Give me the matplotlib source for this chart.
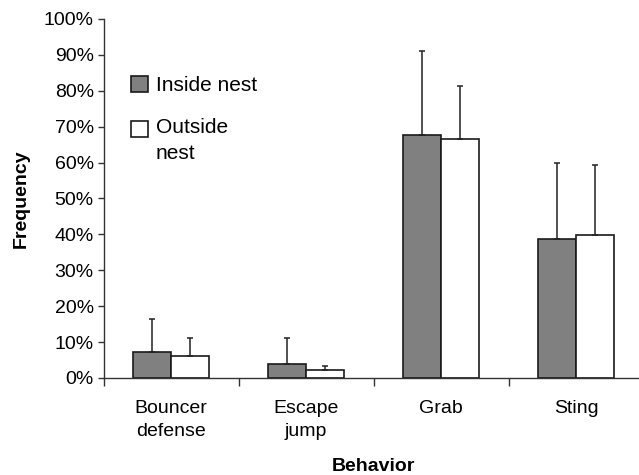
import matplotlib
matplotlib.use("Agg")
import matplotlib.pyplot as plt
import numpy as np
from matplotlib.ticker import FixedLocator, PercentFormatter
from matplotlib.legend_handler import HandlerPatch
from matplotlib.patches import Rectangle

categories = ["Bouncer\ndefense", "Escape\njump", "Grab", "Sting"]
inside_vals = [7.3, 3.8, 67.7, 38.7]
inside_err = [9.0, 7.4, 23.5, 21.2]
outside_vals = [6.0, 2.3, 66.5, 39.7]
outside_err = [5.2, 1.1, 14.8, 19.6]
series_labels = ["Inside nest", "Outside\nnest"]

plt.rcParams['font.family'] = ['Liberation Sans', 'DejaVu Sans']

fig = plt.figure(figsize=(6.39, 4.75), dpi=100)
ax = fig.add_axes([103.5/639, 1-378/475, 540/639, (378-19)/475])

x = np.arange(len(categories))
w = 0.28
ekw = dict(ecolor='#222222', elinewidth=1.1, capsize=2.2, capthick=1.1)
b1 = ax.bar(x - w/2, inside_vals, w, color='#808080', edgecolor='#1a1a1a', linewidth=1.2,
            yerr=[np.zeros(4), inside_err], error_kw=ekw, zorder=2)
b2 = ax.bar(x + w/2, outside_vals, w, color='white', edgecolor='#1a1a1a', linewidth=1.2,
            yerr=[np.zeros(4), outside_err], error_kw=ekw, zorder=2)

ax.set_xlim(-0.5, len(categories) - 0.5)
ax.set_ylim(0, 100)
ax.yaxis.set_major_locator(FixedLocator(np.arange(0, 101, 10)))
ax.yaxis.set_major_formatter(PercentFormatter(decimals=0))

ax.set_xticks(x)
ax.set_xticklabels(categories, linespacing=1.45)
ax.set_xticks(np.arange(-0.5, len(categories), 1.0), minor=True)
ax.tick_params(axis='x', which='major', length=0, pad=16, labelsize=14)
ax.tick_params(axis='x', which='minor', length=6, width=1, color='#333333', direction='out')
ax.tick_params(axis='y', length=4, width=1, color='#333333', direction='out', pad=3, labelsize=14)

for s in ['top', 'right']:
    ax.spines[s].set_visible(False)
for s in ['left', 'bottom']:
    ax.spines[s].set_color('#333333')
    ax.spines[s].set_linewidth(1.0)

ax.set_xlabel("Behavior", fontsize=14, fontweight='bold', labelpad=13)
ax.set_ylabel("Frequency", fontsize=14, fontweight='bold', labelpad=10)


def top_square(legend, orig_handle, xdescent, ydescent, width, height, fontsize):
    return Rectangle((-xdescent, -ydescent + 8.5), width, height)


h1 = b1.patches[0]
h2 = b2.patches[0]
leg = ax.legend(handles=[h1, h2], labels=series_labels, loc='upper left',
                bbox_to_anchor=(0.035, 0.865),
                frameon=False, fontsize=15, handlelength=0.85, handleheight=0.85,
                handletextpad=0.35, labelspacing=1.1, borderaxespad=0,
                handler_map={h2: HandlerPatch(patch_func=top_square)})
for t in leg.get_texts():
    t.set_linespacing(1.45)

fig.savefig("out.png", dpi=100)
